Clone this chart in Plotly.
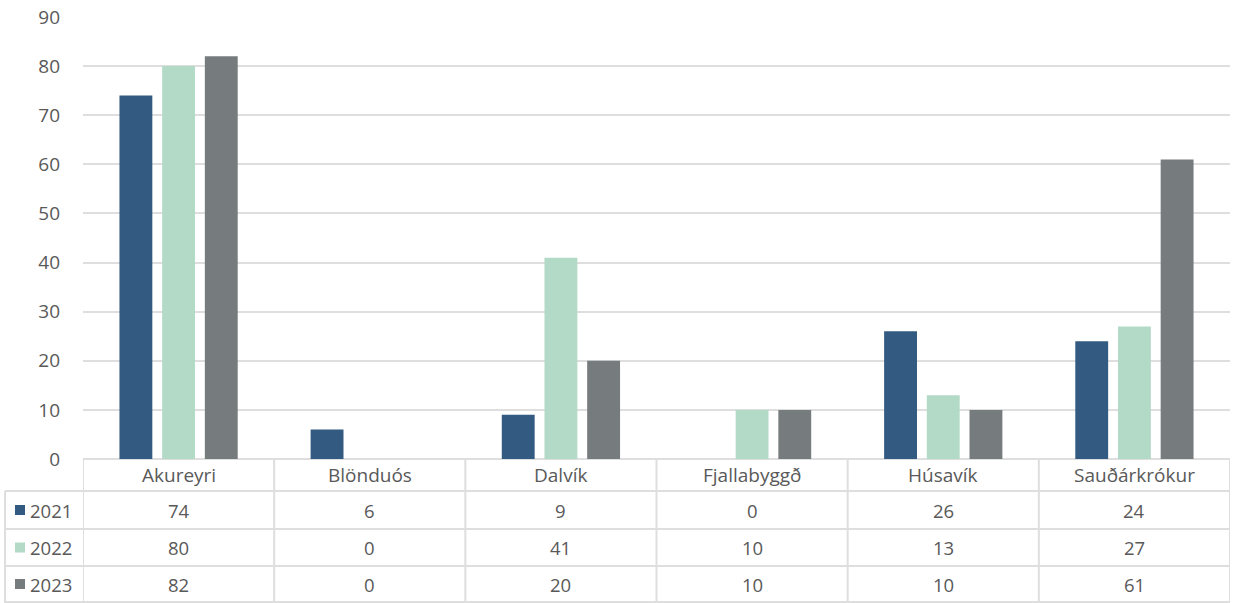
import plotly.graph_objects as go

categories = ["Akureyri", "Blönduós", "Dalvík", "Fjallabyggð", "Húsavík", "Sauðárkrókur"]
series_names = ["2021", "2022", "2023"]
v2021 = [74, 6, 9, 0, 26, 24]
v2022 = [80, 0, 41, 10, 13, 27]
v2023 = [82, 0, 20, 10, 10, 61]
colors = ["#335a80", "#b3d9c7", "#767b7d"]
y_ticks = [0, 10, 20, 30, 40, 50, 60, 70, 80, 90]

W, H = 1236, 603
FONT = "Open Sans"
TXT = "#595959"
GRID = "#dedede"
FS = 18.5
FS_HDR = 19

def px_y(py):
    return (H - py) / H

def px_x(px):
    return px / W

x_left, x_right = 83, 1230
plot_top, plot_bottom = 17, 459
row_lines = [459, 491, 529, 566, 602]

fig = go.Figure()
series = [v2021, v2022, v2023]
for name, vals, col in zip(series_names, series, colors):
    fig.add_trace(go.Bar(x=categories, y=vals, name=name, marker=dict(color=col, line=dict(width=0)),
                         showlegend=False, hoverinfo="x+y+name"))

shapes = []
for i, yl in enumerate(row_lines):
    x0 = px_x(x_left) if i == 0 else px_x(5)
    shapes.append(dict(type="line", xref="paper", yref="paper", x0=x0, x1=px_x(x_right),
                       y0=px_y(yl), y1=px_y(yl), line=dict(color=GRID, width=2), layer="below"))
for k in range(len(categories) + 1):
    shapes.append(dict(type="line", xref="x", yref="paper", x0=k - 0.5, x1=k - 0.5,
                       y0=px_y(plot_bottom), y1=px_y(H), line=dict(color=GRID, width=2), layer="below"))
shapes.append(dict(type="line", xref="paper", yref="paper", x0=px_x(5), x1=px_x(5),
                   y0=px_y(row_lines[1]), y1=px_y(H), line=dict(color=GRID, width=2), layer="below"))

annotations = []
hdr_c = (row_lines[0] + row_lines[1]) / 2
for k, c in enumerate(categories):
    annotations.append(dict(x=k, xref="x", y=px_y(hdr_c), yref="paper", text=c, showarrow=False,
                            font=dict(family=FONT, size=FS_HDR, color=TXT), xanchor="center", yanchor="middle"))
for r, (name, vals, col) in enumerate(zip(series_names, series, colors)):
    yc = (row_lines[r + 1] + row_lines[r + 2]) / 2
    shapes.append(dict(type="rect", xref="paper", yref="paper", x0=px_x(15), x1=px_x(25),
                       y0=px_y(yc + 5), y1=px_y(yc - 5), fillcolor=col, line=dict(width=0)))
    annotations.append(dict(x=px_x(28), xref="paper", y=px_y(yc), yref="paper", text=name, showarrow=False,
                            font=dict(family=FONT, size=FS, color=TXT), xanchor="left", yanchor="middle"))
    for k, v in enumerate(vals):
        annotations.append(dict(x=k, xref="x", y=px_y(yc), yref="paper", text=str(v), showarrow=False,
                                font=dict(family=FONT, size=FS, color=TXT), xanchor="center", yanchor="middle"))

fig.update_layout(
    width=W, height=H,
    margin=dict(l=0, r=0, t=0, b=0, autoexpand=False),
    paper_bgcolor="white", plot_bgcolor="white",
    barmode="group", bargap=0.33, bargroupgap=0.23,
    xaxis=dict(domain=[px_x(x_left), px_x(x_right)], range=[-0.5, 5.5], showticklabels=False,
               showgrid=False, zeroline=False, showline=False, fixedrange=True, automargin=False),
    yaxis=dict(domain=[px_y(plot_bottom), px_y(plot_top)], range=[0, 90], tickvals=y_ticks,
               showgrid=True, gridcolor=GRID, gridwidth=2, zeroline=False, showline=False,
               tickfont=dict(family=FONT, size=19, color=TXT), ticklabelstandoff=22, ticks="",
               automargin=False),
    shapes=shapes, annotations=annotations,
)

fig.write_html("out.html", config={"displayModeBar": False},
               post_script="document.body.style.margin='0';document.body.style.overflow='hidden';")
